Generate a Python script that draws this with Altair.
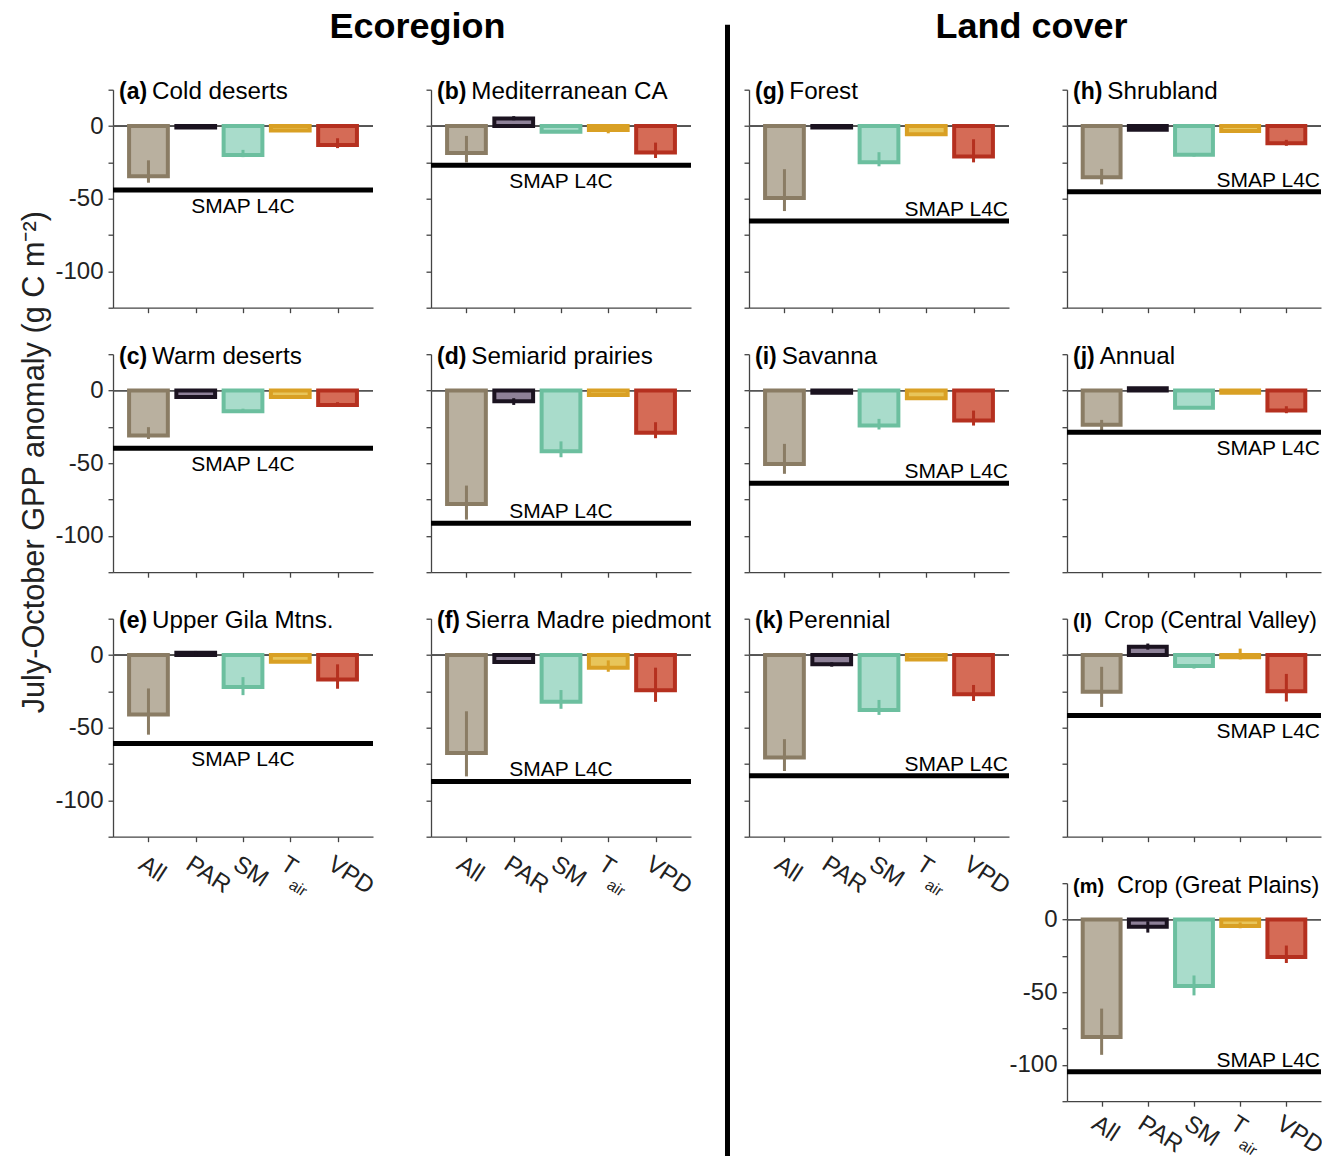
import altair as alt
import pandas as pd

# ---------------- data ----------------
drivers = ["All", "PAR", "SM", "Tair", "VPD"]
panel_letters = ["a", "b", "c", "d", "e", "f", "g", "h", "i", "j", "k", "l", "m"]
panel_names = ["Cold deserts", "Mediterranean CA", "Warm deserts", "Semiarid prairies",
               "Upper Gila Mtns.", "Sierra Madre piedmont", "Forest", "Shrubland",
               "Savanna", "Annual", "Perennial", "Crop (Central Valley)", "Crop (Great Plains)"]

# mean anomaly per driver (panels a..m)
anom_all = [-34.5, -18.6, -31.0, -78.0, -41.0, -67.4, -49.6, -35.2, -50.5, -23.6, -70.5, -25.3, -80.9]
anom_par = [-1.0, 5.2, -4.4, -7.3, 1.5, -4.8, -1.0, -2.5, -1.5, 1.5, -6.4, 5.7, -4.9]
anom_sm = [-20.0, -3.9, -14.2, -41.7, -22.0, -32.2, -25.0, -19.8, -24.1, -11.9, -37.8, -7.6, -45.8]
anom_tair = [-3.0, -2.7, -4.4, -3.0, -4.6, -8.7, -5.7, -3.5, -5.3, -1.5, -3.0, -1.5, -4.4]
anom_vpd = [-13.0, -18.2, -10.0, -29.1, -16.8, -24.2, -20.9, -11.8, -20.6, -13.8, -27.0, -24.9, -25.7]

# error bar ends (low / high)
lo_all = [-39.0, -25.0, -33.3, -88.8, -54.8, -83.5, -58.5, -40.2, -57.3, -29.0, -79.8, -35.7, -93.1]
hi_all = [-23.6, -6.8, -25.2, -65.4, -23.0, -38.7, -29.7, -29.5, -36.7, -20.2, -57.9, -8.1, -61.3]
lo_par = [-1.0, 4.0, -4.4, -9.9, -1.0, -6.0, -1.0, -2.5, -1.5, 1.5, -8.0, 3.7, -9.0]
hi_par = [-1.0, 6.8, -4.4, -5.3, 2.8, -4.0, -1.0, -2.5, -1.5, 1.5, -5.0, 7.9, -1.2]
lo_sm = [-21.4, -3.9, -14.5, -45.9, -27.6, -37.0, -27.7, -21.0, -26.8, -11.9, -41.2, -9.3, -52.2]
hi_sm = [-16.4, -3.9, -12.5, -35.0, -15.2, -24.1, -18.0, -18.6, -19.5, -11.9, -30.9, -6.5, -38.5]
lo_tair = [-3.0, -5.0, -4.4, -3.0, -4.6, -11.5, -5.7, -3.5, -5.3, -1.5, -3.0, -3.0, -6.0]
hi_tair = [-3.0, -2.7, -4.4, -3.0, -4.6, -3.7, -5.7, -3.5, -5.3, -1.5, -3.0, 4.4, -2.0]
lo_vpd = [-15.2, -22.0, -10.0, -32.8, -23.2, -32.2, -25.0, -13.6, -24.1, -15.6, -31.6, -32.0, -29.9]
hi_vpd = [-8.4, -11.4, -8.0, -21.8, -6.4, -8.7, -9.1, -9.5, -13.8, -10.8, -20.6, -13.0, -17.9]

# SMAP L4C reference anomaly
smap_l4c = [-44.0, -27.0, -39.7, -91.3, -60.8, -87.0, -65.4, -45.2, -63.8, -28.7, -83.0, -41.6, -104.7]
smap_label_above = [False, False, False, True, False, True, True, True, True, False, True, False, True]

y_ticks = [-125, -100, -75, -50, -25, 0, 25]

# ---------------- style ----------------
fills = ["#b9b09f", "#8e8198", "#a9dccb", "#e8c55a", "#d56b56"]
strokes = ["#8a7c64", "#1b1320", "#6cbf9f", "#d9a024", "#b5301f"]
FONT = "Liberation Sans"
W, W4, H = 260, 254, 218
AXIS_COL = "#444444"
BOLD_W = {"(": 0.333, ")": 0.333, "a": 0.556, "b": 0.611, "c": 0.556, "d": 0.611, "e": 0.556,
          "f": 0.333, "g": 0.611, "h": 0.611, "i": 0.278, "j": 0.278, "k": 0.556, "l": 0.278,
          "m": 0.889}
LABEL_FS = 23
NAME_FS = 24.2
# a few panel titles in the original are set smaller / further right
title_style = {11: (20, 23.0, 37), 12: (20, 23.5, 50)}

xscale = alt.Scale(domain=[0.25, 5.75], nice=False, zero=False)
yscale = alt.Scale(domain=[-125, 25], nice=False, zero=False)

lab_expr = " : ".join(
    [f"datum.value == {i + 1} ? '{('T' if d == 'Tair' else d)}'" for i, d in enumerate(drivers)]
) + " : ''"


def x_axis(show_x, pad):
    return alt.Axis(values=[1, 2, 3, 4, 5], labels=show_x, labelExpr=lab_expr,
                    labelAngle=33, labelAlign="left", labelBaseline="middle",
                    labelOffset=-8, labelPadding=pad, labelFontSize=24, labelFont=FONT,
                    labelColor="#222222", labelOverlap=False,
                    tickSize=5, tickColor=AXIS_COL, tickWidth=1.3,
                    domainColor=AXIS_COL, domainWidth=1.3, grid=False, title=None)


def y_axis(show_y):
    return alt.Axis(values=y_ticks, labels=show_y,
                    labelExpr="datum.value % 50 == 0 ? ('' + datum.value) : ''",
                    labelFontSize=24, labelFont=FONT, labelColor="#222222", labelPadding=5,
                    tickSize=5, tickColor=AXIS_COL, tickWidth=1.3,
                    domainColor=AXIS_COL, domainWidth=1.3, grid=False, title=None)


def make_panel(k, show_y, show_x, right_label, width, extras=None, label_pad=20):
    df = pd.DataFrame({
        "pos": [1, 2, 3, 4, 5],
        "driver": drivers,
        "value": [anom_all[k], anom_par[k], anom_sm[k], anom_tair[k], anom_vpd[k]],
        "lo": [lo_all[k], lo_par[k], lo_sm[k], lo_tair[k], lo_vpd[k]],
        "hi": [hi_all[k], hi_par[k], hi_sm[k], hi_tair[k], hi_vpd[k]],
        "fill": fills,
        "stroke": strokes,
    })
    df["x0"] = df["pos"] - 0.41
    df["x1"] = df["pos"] + 0.41
    df["zero"] = 0.0

    xa = x_axis(show_x, label_pad)
    ya = y_axis(show_y)

    bars = alt.Chart(df).mark_rect(strokeWidth=4).encode(
        x=alt.X("x0:Q", scale=xscale, axis=xa), x2="x1:Q",
        y=alt.Y("value:Q", scale=yscale, axis=ya), y2="zero:Q",
        fill=alt.Fill("fill:N", scale=None), stroke=alt.Stroke("stroke:N", scale=None))

    zero = alt.Chart(df).mark_rule(color="#555555", strokeWidth=1.2).encode(
        y=alt.Y("zero:Q", scale=yscale, axis=ya), x=alt.value(0), x2=alt.value(width))

    errs = alt.Chart(df).mark_rule(strokeWidth=3).encode(
        x=alt.X("pos:Q", scale=xscale, axis=xa),
        y=alt.Y("lo:Q", scale=yscale, axis=ya), y2="hi:Q",
        color=alt.Color("stroke:N", scale=None))

    sdf = pd.DataFrame({"s": [smap_l4c[k]], "c": [3.0]})
    smap_line = alt.Chart(sdf).mark_rule(color="black", strokeWidth=5).encode(
        y=alt.Y("s:Q", scale=yscale, axis=ya), x=alt.value(0), x2=alt.value(width))
    dy = -5 if smap_label_above[k] else 23
    if right_label:
        smap_text = alt.Chart(sdf).mark_text(text="SMAP L4C", font=FONT, fontSize=21, color="black",
                                             align="right", baseline="alphabetic", dy=dy).encode(
            y=alt.Y("s:Q", scale=yscale, axis=ya), x=alt.value(width - 1))
    else:
        smap_text = alt.Chart(sdf).mark_text(text="SMAP L4C", font=FONT, fontSize=21, color="black",
                                             align="center", baseline="alphabetic", dy=dy).encode(
            y=alt.Y("s:Q", scale=yscale, axis=ya), x=alt.X("c:Q", scale=xscale, axis=xa))

    label = "(" + panel_letters[k] + ")"
    lfs, nfs, nx = title_style.get(k, (LABEL_FS, NAME_FS, None))
    lw = sum(BOLD_W.get(ch, 0.55) for ch in label) * lfs
    if nx is None:
        nx = 6 + lw + 5
    one = pd.DataFrame({"t": [0]})
    t1 = alt.Chart(one).mark_text(text=label, font=FONT, fontSize=lfs, fontWeight="bold",
                                  align="left", baseline="alphabetic", color="black").encode(
        x=alt.value(6), y=alt.value(9.5))
    t2 = alt.Chart(one).mark_text(text=panel_names[k], font=FONT, fontSize=nfs,
                                  align="left", baseline="alphabetic", color="black").encode(
        x=alt.value(nx), y=alt.value(9.5))

    layers = [zero, bars, errs, smap_line, smap_text, t1, t2]
    if show_x:
        sub = alt.Chart(pd.DataFrame({"t": [4.0]})).mark_text(
            text="air", font=FONT, fontSize=16, angle=33, align="left", baseline="middle",
            color="#222222", dx=12, dy=18).encode(
            x=alt.X("t:Q", scale=xscale, axis=xa), y=alt.value(H + 5 + label_pad))
        layers.append(sub)
    if extras:
        layers.extend(extras)
    return alt.layer(*layers).properties(width=width, height=H)


one = pd.DataFrame({"t": [0]})
heading_eco = alt.Chart(one).mark_text(text="Ecoregion", font=FONT, fontSize=36, fontWeight="bold",
                                       align="center", baseline="alphabetic", color="black").encode(
    x=alt.value(304.5), y=alt.value(-52))
heading_land = alt.Chart(one).mark_text(text="Land cover", font=FONT, fontSize=36, fontWeight="bold",
                                        align="center", baseline="alphabetic", color="black").encode(
    x=alt.value(282.5), y=alt.value(-52))
divider = alt.Chart(one).mark_rule(color="black", strokeWidth=5).encode(
    x=alt.value(-21.5), y=alt.value(-65), y2=alt.value(1070))
ytitle = alt.Chart(one).mark_text(text="July-October GPP anomaly (g C m⁻²)", font=FONT, fontSize=30.7,
                                  angle=270, align="center", baseline="middle", color="#222222").encode(
    x=alt.value(-78), y=alt.value(108))
# invisible anchors that fix the page frame (top-left and bottom-right bounds)
anchor_tl = alt.Chart(one).mark_rule(opacity=0, strokeWidth=1).encode(
    x=alt.value(-105), y=alt.value(-100), y2=alt.value(-99))
anchor_br = alt.Chart(one).mark_rule(opacity=0, strokeWidth=1).encode(
    x=alt.value(W4 + 30), y=alt.value(H + 80), y2=alt.value(H + 81))


def filler():
    return alt.Chart(one).mark_point(opacity=0).encode(
        x=alt.value(0), y=alt.value(0)).properties(width=W, height=H)


pa = make_panel(0, True, False, False, W, [heading_eco, anchor_tl])
pb = make_panel(1, False, False, False, W)
pc = make_panel(2, True, False, False, W, [ytitle])
pd_ = make_panel(3, False, False, False, W)
pe = make_panel(4, True, True, False, W)
pf = make_panel(5, False, True, False, W)
pg = make_panel(6, False, False, True, W, [heading_land, divider])
ph = make_panel(7, False, False, True, W4)
pi = make_panel(8, False, False, True, W)
pj = make_panel(9, False, False, True, W4)
pk = make_panel(10, False, True, True, W)
pl = make_panel(11, False, False, True, W4)
pm = make_panel(12, True, True, True, W4, [anchor_br], label_pad=15)

chart = alt.concat(
    pa, pb, pg, ph,
    pc, pd_, pi, pj,
    pe, pf, pk, pl,
    filler(), filler(), filler(), pm,
    columns=4, spacing={"row": 46.5, "column": 58}, bounds="flush",
).properties(
    padding={"left": 0, "top": -18.3, "right": -29, "bottom": -26.3},
    background="white",
).configure_view(stroke=None)

chart.save("out.html", embed_options={"renderer": "svg", "actions": False})
